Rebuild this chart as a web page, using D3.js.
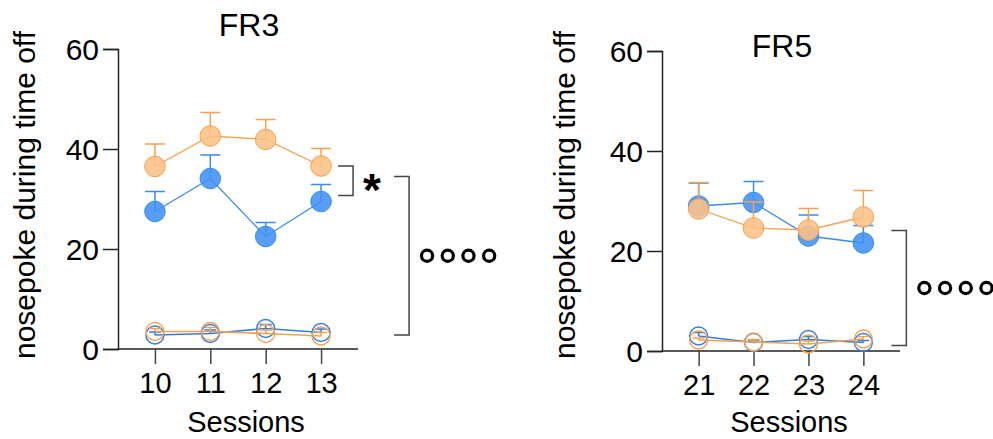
<!DOCTYPE html>
<html>
<head>
<meta charset="utf-8">
<script src="https://cdn.jsdelivr.net/npm/d3@7"></script>
<style>
  body { margin: 0; background: #fff; }
  text { font-family: "Liberation Sans", Arial, sans-serif; fill: #000; }
</style>
</head>
<body>
<script>
var width = 993, height = 439;

// sessions
var sessionsFR3 = [10, 11, 12, 13];
var sessionsFR5 = [21, 22, 23, 24];
var yTicks = [0, 20, 40, 60];

// FR3 values (mean, upper SEM)
var fr3BlueFilled = [27.5, 34.1, 22.5, 29.5];
var fr3BlueFilledErr = [4.0, 4.7, 2.8, 3.4];
var fr3OrangeFilled = [36.5, 42.6, 41.9, 36.6];
var fr3OrangeFilledErr = [4.5, 4.7, 4.0, 3.5];
var fr3BlueOpen = [2.8, 3.1, 4.1, 3.3];
var fr3BlueOpenErr = [0.6, 0.7, 0.8, 0.7];
var fr3OrangeOpen = [3.5, 3.5, 3.1, 2.6];
var fr3OrangeOpenErr = [0.6, 0.8, 0.7, 0.7];

// FR5 values
var fr5BlueFilled = [29.0, 29.7, 23.0, 21.6];
var fr5BlueFilledErr = [4.6, 4.2, 4.2, 3.5];
var fr5OrangeFilled = [28.4, 24.6, 24.2, 26.8];
var fr5OrangeFilledErr = [5.3, 5.2, 4.3, 5.3];
var fr5BlueOpen = [3.0, 1.7, 2.3, 1.7];
var fr5BlueOpenErr = [0.7, 0.5, 0.6, 0.4];
var fr5OrangeOpen = [2.2, 1.8, 1.4, 2.4];
var fr5OrangeOpenErr = [0.4, 0.5, 0.6, 0.5];

// significance brackets [top, bottom] in data units
var fr3Brackets = [[36.6, 30.7], [34.5, 2.8]];
var fr5Brackets = [[24.1, 1.1]];

var blue = "#4191f4", blueLine = "#3a8bef", blueOpen = "#2f7fe3";
var orangeFill = "#fbc188", orange = "#f6a14e";

var svg = d3.select("body").append("svg")
  .attr("width", width)
  .attr("height", height);

function series(x, vals, errs) {
  return x.map(function (s, i) { return { s: s, v: vals[i], e: errs[i] }; });
}

function drawPanel(p) {
  var x = d3.scaleLinear()
    .domain([p.sessions[0] - 0.667, p.sessions[3] + 0.667])
    .range([p.left, p.right]);
  var y = d3.scaleLinear().domain([0, 60]).range([p.bottom, p.bottom - 300]);

  var g = svg.append("g");

  // y axis
  var ya = g.append("g")
    .attr("transform", "translate(" + p.left + ",0)")
    .call(d3.axisLeft(y).tickValues(yTicks).tickSize(15).tickPadding(4));
  ya.select(".domain").attr("stroke", "#222").attr("stroke-width", 1.5);
  ya.selectAll(".tick line").attr("stroke", "#222").attr("stroke-width", 1.5);
  ya.selectAll(".tick text").style("font-size", "30px").attr("dy", "0.36em");

  // x axis
  var xa = g.append("g")
    .attr("transform", "translate(0," + p.bottom + ")")
    .call(d3.axisBottom(x).tickValues(p.sessions).tickSize(15).tickFormat(d3.format("d")));
  xa.select(".domain").attr("stroke", "#222").attr("stroke-width", 1.5)
    .attr("d", "M" + p.left + ",0H" + p.right);
  xa.selectAll(".tick line").attr("stroke", "#444").attr("stroke-width", 1.5);
  xa.selectAll(".tick text").style("font-size", "29px").attr("y", 44).attr("dy", 0);

  g.append("text")
    .attr("x", (p.left + p.right) / 2 + 8)
    .attr("y", 432)
    .attr("text-anchor", "middle")
    .style("font-size", "29px")
    .text("Sessions");

  g.append("text")
    .attr("transform", "translate(" + p.labelX + ",195) rotate(-90)")
    .attr("text-anchor", "middle")
    .style("font-size", "30px")
    .text("nosepoke during time off");

  g.append("text")
    .attr("x", p.titleX)
    .attr("y", p.titleY)
    .attr("text-anchor", "middle")
    .style("font-size", "32px")
    .text(p.title);

  var line = d3.line().x(function (d) { return x(d.s); }).y(function (d) { return y(d.v); });

  function drawSeries(data, color, lineColor, filled) {
    var cap = filled ? 10 : 6;
    var sg = g.append("g");
    sg.selectAll(".err").data(data).enter().append("path")
      .attr("d", function (d) {
        return "M" + x(d.s) + "," + y(d.v) + "V" + y(d.v + d.e) +
          "M" + (x(d.s) - cap) + "," + y(d.v + d.e) + "H" + (x(d.s) + cap);
      })
      .attr("fill", "none")
      .attr("stroke", lineColor)
      .attr("stroke-width", 1.5);
    sg.append("path")
      .datum(data)
      .attr("d", line)
      .attr("fill", "none")
      .attr("stroke", lineColor)
      .attr("stroke-width", filled ? 1.3 : 1.6);
    sg.selectAll("circle").data(data).enter().append("circle")
      .attr("cx", function (d) { return x(d.s); })
      .attr("cy", function (d) { return y(d.v); })
      .attr("r", filled ? 10.3 : 9)
      .attr("fill", filled ? color : "none")
      .attr("fill-opacity", 0.88)
      .attr("stroke", filled ? lineColor : color)
      .attr("stroke-width", filled ? 1 : 1.4);
  }

  drawSeries(series(p.sessions, p.blueOpen, p.blueOpenErr), blueOpen, blueOpen, false);
  drawSeries(series(p.sessions, p.orangeOpen, p.orangeOpenErr), orange, orange, false);
  drawSeries(series(p.sessions, p.blueFilled, p.blueFilledErr), blue, blueLine, true);
  drawSeries(series(p.sessions, p.orangeFilled, p.orangeFilledErr), orangeFill, orange, true);

  // brackets
  p.brackets.forEach(function (b, i) {
    var bx = x(p.sessions[3]) + p.bracketX[i];
    g.append("path")
      .attr("d", "M" + bx + "," + y(b[0]) + "H" + (bx + 15) + "V" + y(b[1]) + "H" + bx)
      .attr("fill", "none")
      .attr("stroke", "#444")
      .attr("stroke-width", 1.5);
    var mid = (y(b[0]) + y(b[1])) / 2;
    if (p.marks[i] === "*") {
      g.append("text")
        .attr("x", bx + 34)
        .attr("y", mid + 25)
        .attr("text-anchor", "middle")
        .style("font-size", "46px")
        .style("font-weight", "bold")
        .text("*");
    } else {
      d3.range(4).forEach(function (k) {
        g.append("circle")
          .attr("cx", bx + 33 + k * 20.7)
          .attr("cy", mid)
          .attr("r", 5.6)
          .attr("fill", "none")
          .attr("stroke", "#000")
          .attr("stroke-width", 3.2);
      });
    }
  });
}

drawPanel({
  sessions: sessionsFR3, left: 118, right: 358, bottom: 349, labelX: 35,
  title: "FR3", titleX: 249, titleY: 36,
  blueFilled: fr3BlueFilled, blueFilledErr: fr3BlueFilledErr,
  orangeFilled: fr3OrangeFilled, orangeFilledErr: fr3OrangeFilledErr,
  blueOpen: fr3BlueOpen, blueOpenErr: fr3BlueOpenErr,
  orangeOpen: fr3OrangeOpen, orangeOpenErr: fr3OrangeOpenErr,
  brackets: fr3Brackets, bracketX: [17, 73], marks: ["*", "oooo"]
});

drawPanel({
  sessions: sessionsFR5, left: 662, right: 900, bottom: 351, labelX: 575,
  title: "FR5", titleX: 782, titleY: 57,
  blueFilled: fr5BlueFilled, blueFilledErr: fr5BlueFilledErr,
  orangeFilled: fr5OrangeFilled, orangeFilledErr: fr5OrangeFilledErr,
  blueOpen: fr5BlueOpen, blueOpenErr: fr5BlueOpenErr,
  orangeOpen: fr5OrangeOpen, orangeOpenErr: fr5OrangeOpenErr,
  brackets: fr5Brackets, bracketX: [28], marks: ["oooo"]
});
</script>
</body>
</html>
